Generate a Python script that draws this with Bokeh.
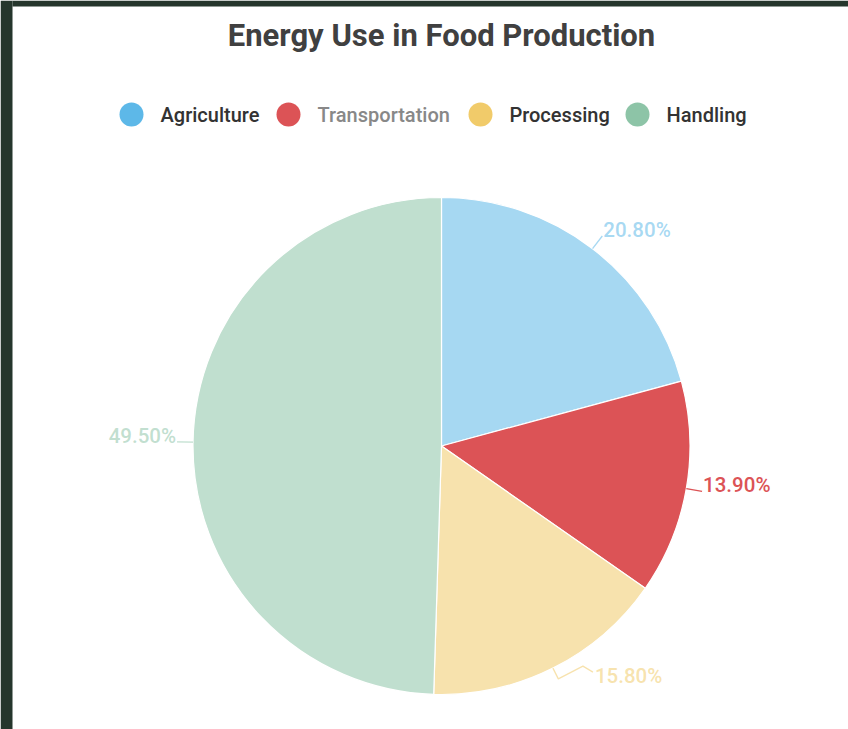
import math
from bokeh.plotting import figure
from bokeh.models import Range1d, ColumnDataSource
from bokeh.core.properties import value
from bokeh.embed import file_html
from bokeh.resources import INLINE

# ---- data ----
title_text = "Energy Use in Food Production"
categories = ["Agriculture", "Transportation", "Processing", "Handling"]
shares = [20.8, 13.9, 15.8, 49.5]
colors = ["#5db8e8", "#dc5356", "#f1cb6a", "#8dc4a7"]
highlighted = "Transportation"

# ---- layout (pixels; data units == pixels, y measured upward from page bottom) ----
W, H = 848, 729
LEFT, TOP = 12, 6
CX, CY, R = 441, H - 445.5, 248.5
FONT = "Roboto"
legend_circle_px = [131, 288, 480, 637]
legend_y_px = 114
dim_alpha = 0.55
BG_DARK = "#25362c"

p = figure(width=W, height=H, frame_width=W, frame_height=H,
           x_range=Range1d(0, W), y_range=Range1d(0, H),
           x_axis_location=None, y_axis_location=None,
           toolbar_location=None, output_backend="svg",
           min_border=0)
p.grid.visible = False
p.outline_line_color = None
p.border_fill_color = "white"
p.background_fill_color = "white"

# page frame (dark strips on the left and top)
p.quad(left=[0, LEFT], right=[LEFT, W], bottom=[0, H - TOP], top=[H, H],
       fill_color=BG_DARK, line_color=None)

# ---- pie ----
total = sum(shares)
starts, ends = [], []
cum = 0.0
for s in shares:
    starts.append(math.pi / 2 - cum / total * 2 * math.pi)
    cum += s
    ends.append(math.pi / 2 - cum / total * 2 * math.pi)
alphas = [1.0 if c == highlighted else dim_alpha for c in categories]
src = ColumnDataSource(dict(cat=categories, start=starts, end=ends, color=colors, alpha=alphas))
p.wedge(x=CX, y=CY, radius=R, start_angle="start", end_angle="end", direction="clock",
        fill_color="color", fill_alpha="alpha", line_color="white", line_width=1.2, source=src)

# ---- labels with leader lines ----
xs, ys, lx, ly, ltxt, lalign, lcol, lalpha = [], [], [], [], [], [], [], []
cum = 0.0
for cat, s, col, a in zip(categories, shares, colors, alphas):
    mid = (cum + s / 2) / total * 2 * math.pi
    cum += s
    ux, uy = math.sin(mid), math.cos(mid)
    ex, ey = CX + R * ux, CY + R * uy
    if cat == "Processing":
        px1, py1 = ex + 12 * ux, ey + 12 * uy
        path_x = [ex, px1, ex + 30, ex + 40]
        path_y = [ey, py1, ey + 2, ey - 4]
        tx, ty = ex + 42, ey - 8
    else:
        endx, endy = ex + 16 * ux, ey + 16 * uy
        path_x = [ex, endx]
        path_y = [ey, endy]
        tx = endx + (1 if ux > 0 else -1)
        ty = endy + 6
    xs.append(path_x)
    ys.append(path_y)
    lx.append(tx)
    ly.append(ty)
    ltxt.append(f"{s / total * 100:.2f}%")
    lalign.append("left" if ux > 0 else "right")
    lcol.append(col)
    lalpha.append(a)

p.multi_line(xs=xs, ys=ys, line_color=lcol, line_alpha=lalpha, line_width=1.3)
lsrc = ColumnDataSource(dict(x=lx, y=ly, t=ltxt, align=lalign, color=lcol, alpha=lalpha))
p.text(x="x", y="y", text="t", text_align="align", text_baseline="middle",
       text_color="color", text_alpha="alpha", text_font=value("Roboto Medium"),
       text_font_size="20.5px", source=lsrc)

# ---- title ----
p.text(x=[441], y=[H - 35], text=[title_text], text_align="center",
       text_baseline="middle", text_font=value(FONT), text_font_size="31px",
       text_font_style="bold", text_color="#404040")

# ---- legend ----
leg_x = list(legend_circle_px)
leg_y = [H - legend_y_px] * len(categories)
p.scatter(x=leg_x, y=leg_y, size=24, marker="circle", fill_color=colors, line_color=None)
leg_text_colors = ["#888888" if c == highlighted else "#333333" for c in categories]
p.text(x=[v + 29 for v in leg_x], y=leg_y, text=categories, text_align="left",
       text_baseline="middle", text_font=value("Roboto Medium"), text_font_size="20px",
       text_color=leg_text_colors)

html = file_html(p, INLINE)
html = html.replace(
    "</head>",
    "<style>html, body { margin: 0; padding: 0; overflow: hidden; background: #ffffff; }</style></head>",
    1,
)
open("out.html", "w").write(html)
